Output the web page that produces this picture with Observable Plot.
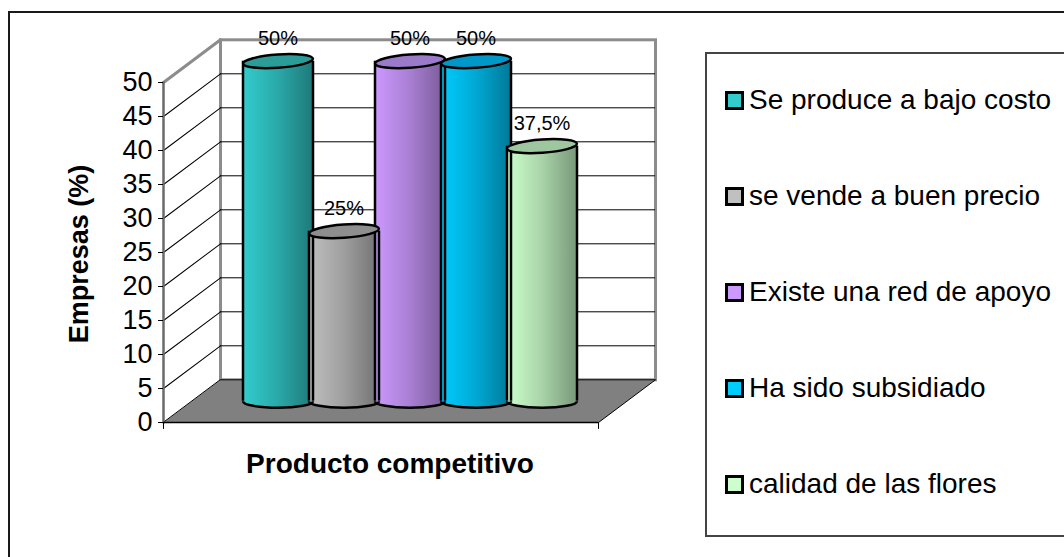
<!DOCTYPE html>
<html>
<head>
<meta charset="utf-8">
<script src="https://cdn.jsdelivr.net/npm/d3@7"></script>
<script src="https://cdn.jsdelivr.net/npm/@observablehq/plot@0.6"></script>
<style>
  html, body { margin: 0; padding: 0; background: #fff; overflow: hidden; }
  #wrap { position: relative; width: 1064px; height: 557px; overflow: hidden; font-family: "Liberation Sans", Arial, sans-serif; }
  #chart { position: absolute; left: 0; top: 0; }
  #outer { position: absolute; left: 8px; top: 11px; width: 1100px; height: 600px; border: 2px solid #1a1a1a; pointer-events: none; }
  #legend { position: absolute; left: 705px; top: 52px; width: 400px; height: 481px; border: 2px solid #444; background: #fff; }
  #legend .inner { position: relative; top: -2px; padding-left: 18px; }
  #legend .row { height: 96px; display: flex; align-items: center; font-size: 28px; line-height: 1; color: #000; white-space: nowrap; }
  #legend .sw { width: 19px; height: 19px; box-sizing: border-box; border: 3px solid #000; margin-right: 5px; flex: none; }
</style>
</head>
<body>
<div id="wrap">
  <div id="chart"></div>
  <div id="legend"><div class="inner"></div></div>
  <div id="outer"></div>
</div>
<script>
// ---- data ----
const categories = ["Se produce a bajo costo", "se vende a buen precio", "Existe una red de apoyo", "Ha sido subsidiado", "calidad de las flores"];
const values = [50, 25, 50, 50, 37.5];
const valueLabels = ["50%", "25%", "50%", "50%", "37,5%"];
const yTicks = [0, 5, 10, 15, 20, 25, 30, 35, 40, 45, 50];
const gridTicks = [5, 10, 15, 20, 25, 30, 35, 40, 45];
const baseColors = ["#33CCCC", "#C0C0C0", "#CC99FF", "#00CCFF", "#CCFFCC"];
const topColors = ["#2C9C98", "#8E8E8E", "#9B7BC9", "#0098C9", "#9FC79F"];
const yTitle = "Empresas (%)";
const xTitle = "Producto competitivo";

// ---- layout ----
const width = 700, height = 557;
const mL = 163, mR = 102, mT = 82, mB = 135;
const frameW = width - mL - mR, frameH = height - mT - mB;
const depthX = 57, depthY = -42.7;               // full depth offset of the walls
const cx = depthX / 2, cy = depthY / 2;          // cylinders sit mid-depth
const depthLen = Math.hypot(depthX, depthY);
const depthAngle = Math.atan2(depthX, -depthY) * 180 / Math.PI;
const R = 35;

const rows = categories.map((category, i) => ({
  category, value: values[i], label: valueLabels[i],
  body: `url(#cyl${i})`, top: topColors[i]
}));

// ---- custom shapes ----
const K = 0.5523, B = 0.19;
const ellipse = {draw(ctx, size) {
  const a = Math.sqrt(size / Math.PI), b = a * B;
  ctx.moveTo(a, 0);
  ctx.bezierCurveTo(a, K * b, K * a, b, 0, b);
  ctx.bezierCurveTo(-K * a, b, -a, K * b, -a, 0);
  ctx.bezierCurveTo(-a, -K * b, -K * a, -b, 0, -b);
  ctx.bezierCurveTo(K * a, -b, a, -K * b, a, 0);
  ctx.closePath();
}};
const lowerArc = {draw(ctx, size) {
  const a = Math.sqrt(size / Math.PI), b = a * B;
  ctx.moveTo(-a, 0);
  ctx.bezierCurveTo(-a, K * b, -K * a, b, 0, b);
  ctx.bezierCurveTo(K * a, b, a, K * b, a, 0);
}};
const segment = {draw(ctx, l) { ctx.moveTo(0, 0); ctx.lineTo(0, -l); }};
const floorShape = {draw(ctx) {
  ctx.moveTo(0, 0); ctx.lineTo(frameW, 0);
  ctx.lineTo(frameW + depthX, depthY); ctx.lineTo(depthX, depthY); ctx.closePath();
}};

const svg = Plot.plot({
  width, height,
  marginLeft: mL, marginRight: mR, marginTop: mT, marginBottom: mB,
  x: {type: "band", domain: categories, paddingInner: 0, paddingOuter: 0.751, axis: null},
  y: {domain: [0, 50], axis: null},
  color: {type: "identity"},
  style: {fontFamily: "'Liberation Sans', Arial, sans-serif", background: "transparent", overflow: "visible", color: "#000"},
  marks: [
    // back wall
    Plot.frame({dx: depthX, dy: depthY, fill: "#fff", stroke: "#8c8c8c", strokeWidth: 3}),
    Plot.ruleY(gridTicks, {dx: depthX, dy: depthY, stroke: "#000", strokeWidth: 1}),
    // side wall lines
    Plot.vector(gridTicks, {y: d => d, frameAnchor: "left", length: depthLen, rotate: depthAngle, anchor: "start", shape: segment, stroke: "#000", strokeWidth: 1}),
    Plot.vector([50], {y: d => d, frameAnchor: "left", length: depthLen, rotate: depthAngle, anchor: "start", shape: segment, stroke: "#8c8c8c", strokeWidth: 3}),
    // floor
    Plot.vector([0], {frameAnchor: "bottom-left", length: 1, rotate: 0, anchor: "start", shape: floorShape, fill: "#808080", stroke: "#000", strokeWidth: 1}),
    // front axis line and floor edge
    Plot.vector([0], {frameAnchor: "bottom-left", length: frameH, rotate: 0, anchor: "start", shape: segment, stroke: "#6a6a6a", strokeWidth: 2.5}),
    Plot.ruleY([0], {stroke: "#000", strokeWidth: 1.5}),
    Plot.vector([0], {frameAnchor: "bottom-left", length: 6, rotate: 180, anchor: "start", shape: segment, stroke: "#000", strokeWidth: 1}),
    Plot.vector([0], {frameAnchor: "bottom-right", length: 6, rotate: 180, anchor: "start", shape: segment, stroke: "#000", strokeWidth: 1}),
    Plot.axisY(yTicks, {tickSize: 5, tickPadding: 6, fontSize: 27, label: null, stroke: "#000", fill: "#000"}),
    // cylinders
    Plot.dot(rows, {x: "category", y: () => 0, r: R, symbol: ellipse, fill: d => d.body, stroke: "none", dx: cx, dy: cy}),
    Plot.barY(rows, {x: "category", y: "value", fill: d => d.body, insetLeft: -1.55, insetRight: -1.55, dx: cx, dy: cy}),
    Plot.dot(rows, {x: "category", y: () => 0, r: R, symbol: lowerArc, fill: "none", stroke: "#000", strokeWidth: 2.5, dx: cx, dy: cy}),
    Plot.ruleX(rows, {x: "category", y1: () => 0, y2: "value", dx: cx - R, dy: cy, stroke: "#000", strokeWidth: 2.5}),
    Plot.ruleX(rows, {x: "category", y1: () => 0, y2: "value", dx: cx + R, dy: cy, stroke: "#000", strokeWidth: 2.5}),
    Plot.dot(rows, {x: "category", y: "value", r: R, symbol: ellipse, rotate: -4, fill: d => d.top, stroke: "#000", strokeWidth: 2.5, dx: cx, dy: cy}),
    // value labels
    Plot.text(rows, {x: "category", y: "value", text: "label", fontSize: 20, fill: "#000", dx: cx, dy: cy - 22.4}),
    // axis titles
    Plot.text([yTitle], {text: d => d, frameAnchor: "left", textAnchor: "middle", lineAnchor: "middle", rotate: -90, dx: -84, dy: 1.5, fontSize: 27, fontWeight: "bold", fill: "#000"}),
    Plot.text([xTitle], {text: d => d, frameAnchor: "bottom", textAnchor: "middle", lineAnchor: "middle", dx: 9, dy: 42, fontSize: 28, fontWeight: "bold", fill: "#000"})
  ]
});

// gradients for the cylinder bodies
const defs = d3.select(svg).insert("defs", ":first-child");
baseColors.forEach((c, i) => {
  const g = defs.append("linearGradient").attr("id", `cyl${i}`).attr("x1", 0).attr("x2", 1).attr("y1", 0).attr("y2", 0);
  const dark = d3.interpolateRgb(c, "#000");
  [[0, 0], [0.5, 0.17], [1, 0.4]].forEach(([o, t]) => g.append("stop").attr("offset", o).attr("stop-color", dark(t)));
});
document.getElementById("chart").appendChild(svg);

// legend
const inner = d3.select("#legend .inner");
categories.forEach((c, i) => {
  const row = inner.append("div").attr("class", "row");
  row.append("div").attr("class", "sw").style("background", baseColors[i]);
  row.append("span").text(c);
});
</script>
</body>
</html>
